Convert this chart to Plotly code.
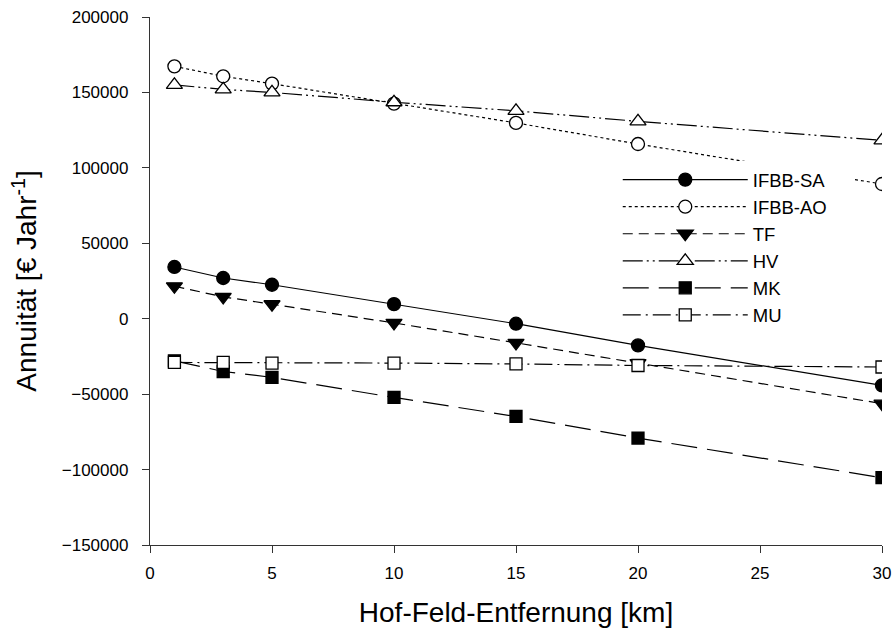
import plotly.graph_objects as go

km = [1, 3, 5, 10, 15, 20, 30]

ifbb_sa = [34300, 27000, 22500, 9700, -3300, -17700, -44200]
ifbb_ao = [167300, 160700, 155800, 142600, 129800, 115800, 89300]
tf = [21500, 14500, 9600, -2800, -16000, -29500, -56300]
hv = [155000, 152000, 150000, 143500, 137800, 130800, 118200]
mk = [-27900, -35000, -38900, -52200, -64800, -79100, -105400]
mu = [-29000, -29000, -29400, -29400, -30000, -31000, -32000]

names = ["IFBB-SA", "IFBB-AO", "TF", "HV", "MK", "MU"]

series = [
    (names[0], ifbb_sa, "solid", "circle", 13, "black"),
    (names[1], ifbb_ao, "dot", "circle", 13, "white"),
    (names[2], tf, "10px,6px", "triangle-down", 14, "black"),
    (names[3], hv, "20px,4px,2px,4px,2px,4px", "triangle-up", 14, "white"),
    (names[4], mk, "26px,10px", "square", 12, "black"),
    (names[5], mu, "18px,5px,2px,5px", "square", 12, "white"),
]

fig = go.Figure()
for name, vals, dash, sym, sz, fill in series:
    label = name + ("\u00a0" * 4 if name == "IFBB-AO" else "")
    fig.add_trace(go.Scatter(
        x=km, y=vals, name=label, mode="lines+markers",
        line=dict(color="black", width=1.2, dash=dash),
        marker=dict(symbol=sym, size=sz, color=fill,
                    line=dict(color="black", width=1.3)),
    ))

fam = "Arial, Liberation Sans, sans-serif"
axis_font = dict(family=fam, size=17, color="black")
fig.update_layout(
    width=894, height=637,
    margin=dict(l=150, r=12, t=17, b=92),
    paper_bgcolor="white", plot_bgcolor="white",
    font=dict(family=fam, color="black"),
    showlegend=True,
    legend=dict(
        x=0.639, y=0.727, xanchor="left", yanchor="top",
        bgcolor="white", borderwidth=0,
        font=dict(family=fam, size=18.5, color="black"),
        itemwidth=125, tracegroupgap=0,
    ),
    xaxis=dict(
        range=[0, 30], tickvals=[0, 5, 10, 15, 20, 25, 30],
        showgrid=False, zeroline=False, showline=True, linecolor="#333", linewidth=1.3,
        ticks="outside", ticklen=7, tickcolor="#333", tickfont=axis_font,
        ticklabelstandoff=5, automargin=False,
        title=dict(text="Hof-Feld-Entfernung [km]", font=dict(family=fam, size=28), standoff=20),
    ),
    yaxis=dict(
        range=[-150000, 200000], tickvals=[-150000, -100000, -50000, 0, 50000, 100000, 150000, 200000],
        tickformat="d",
        showgrid=False, zeroline=False, showline=True, linecolor="#333", linewidth=1.3,
        ticks="outside", ticklen=7, tickcolor="#333", tickfont=axis_font,
        ticklabelstandoff=10, automargin=False,
        title=dict(text="Annuität [€ Jahr<sup>-1</sup>]", font=dict(family=fam, size=28), standoff=16),
    ),
)

fig.write_html("out.html")
